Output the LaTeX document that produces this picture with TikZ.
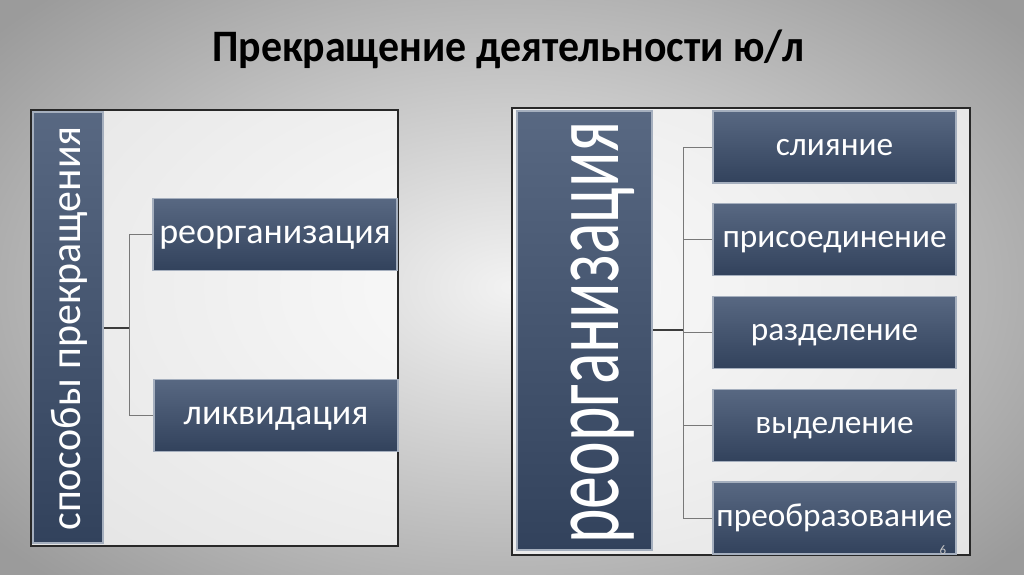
\documentclass[tikz,border=0pt]{standalone}
\usepackage{fontspec}
\setmainfont{Carlito}
\definecolor{bgin}{RGB}{242,242,242}
\definecolor{bgout}{RGB}{155,155,155}
\definecolor{boxtop}{RGB}{88,104,130}
\definecolor{boxbot}{RGB}{50,66,92}
\definecolor{boxedge}{RGB}{165,175,190}
\definecolor{framec}{RGB}{40,40,40}
\definecolor{linec}{RGB}{120,120,120}
\definecolor{linedark}{RGB}{60,60,60}
\begin{document}
\begin{tikzpicture}[x=1pt,y=-1pt,
  panel/.style={draw=framec, line width=1.3pt, fill=white, fill opacity=0.72},
  slab/.style={rectangle, draw=boxedge, line width=1.5pt, top color=boxtop, bottom color=boxbot, inner sep=0pt},
  itembox/.style={slab, minimum width=244pt, minimum height=72pt, text=white, text height=17pt, text depth=0pt, font=\fontsize{36}{36}\selectfont},
  ritembox/.style={itembox, minimum width=243pt, text height=16pt, font=\fontsize{33.3}{33.3}\selectfont},
  conn/.style={draw=linec, line width=1pt},
  connd/.style={draw=linedark, line width=1.2pt}]
\useasboundingbox (0,0) rectangle (1024,574);
\shade[inner color=bgin, outer color=bgout] (-150,-120) rectangle (1174,694);
% title
\node[anchor=base, inner sep=0pt, text=black] (title) at (508.5,61) {\scalebox{0.93}[1]{\fontsize{45}{45}\selectfont\bfseries Прекращение деятельности ю/л}};
% left panel
\draw[panel] (31,110) rectangle (398,546);
\node[slab, minimum width=70pt, minimum height=431pt] (lbar) at (68,327.5) {};
\node[rotate=90, anchor=base, inner sep=0pt, text=white] (ltext) at (80,328.5) {\scalebox{0.975}[1]{\fontsize{43}{43}\selectfont способы прекращения}};
\node[itembox] (reorg) at (275,234.5) {реорганизация};
\node[itembox] (liq) at (276,415.5) {ликвидация};
\coordinate (lj) at (129,328);
\draw[connd] (lbar.east |- lj) -- (lj);
\draw[conn] (reorg.west) -| (lj);
\draw[conn] (liq.west) -| (lj);
% right panel
\draw[panel] (512,108) rectangle (970,555);
\node[slab, minimum width=135pt, minimum height=439pt] (rbar) at (584.5,330.5) {};
\node[rotate=90, anchor=base, inner sep=0pt, text=white] (rtext) at (618,332.5) {\scalebox{0.67}[1]{\fontsize{98}{98}\selectfont реорганизация}};
\node[ritembox] (m1) at (834.5,147) {слияние};
\node[ritembox] (m2) at (834.5,239.5) {присоединение};
\node[ritembox] (m3) at (834.5,332.5) {разделение};
\node[ritembox] (m4) at (834.5,425.5) {выделение};
\node[ritembox] (m5) at (834.5,518) {преобразование};
\coordinate (rj) at (683,330);
\draw[connd] (rbar.east |- rj) -- (rj);
\foreach \m in {m1,m2,m3,m4,m5} {\draw[conn] (\m.west) -| (rj);}
\node[text=gray!45, inner sep=0pt, font=\fontsize{13}{13}\selectfont] (pg) at (943,550) {6};
\end{tikzpicture}
\end{document}
